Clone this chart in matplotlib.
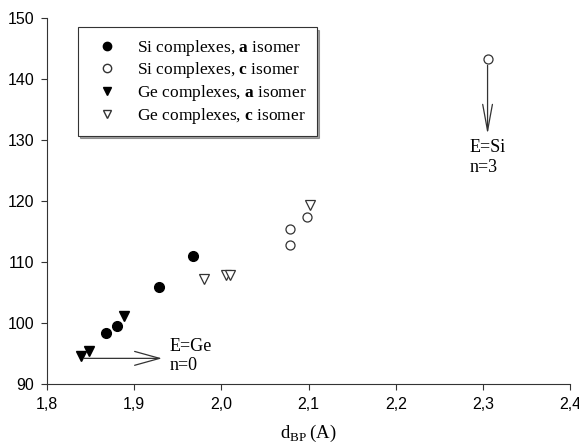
import matplotlib
matplotlib.use("Agg")
import matplotlib.pyplot as plt
from matplotlib.lines import Line2D

plt.rcParams["mathtext.fontset"] = "custom"
plt.rcParams["mathtext.rm"] = "Liberation Serif"
plt.rcParams["mathtext.bf"] = "Liberation Serif:bold"

# dados
si_a_x = [1.868, 1.881, 1.929, 1.968]
si_a_y = [98.4, 99.5, 105.9, 111.0]
si_c_x = [2.079, 2.079, 2.098, 2.305]
si_c_y = [115.5, 112.8, 117.5, 143.3]
ge_a_x = [1.839, 1.848, 1.889]
ge_a_y = [94.6, 95.5, 101.2]
ge_c_x = [1.980, 2.005, 2.010, 2.102]
ge_c_y = [107.3, 107.9, 107.9, 119.4]

rotulos = [r"Si complexes, $\mathbf{a}$ isomer",
           r"Si complexes, $\mathbf{c}$ isomer",
           r"Ge complexes, $\mathbf{a}$ isomer",
           r"Ge complexes, $\mathbf{c}$ isomer"]
xticks = [1.8, 1.9, 2.0, 2.1, 2.2, 2.3, 2.4]
yticks = [90, 100, 110, 120, 130, 140, 150]

fig = plt.figure(figsize=(5.79, 4.47), dpi=100)
ax = fig.add_axes([0.0807, 0.1403, 0.9046, 0.8187])

ax.plot(si_a_x, si_a_y, "o", ms=7, mfc="black", mec="black", ls="none")
ax.plot(si_c_x, si_c_y, "o", ms=6.5, mfc="white", mec="#333333", mew=0.9, ls="none")
ax.plot(ge_a_x, ge_a_y, "v", ms=7, mfc="black", mec="black", ls="none")
ax.plot(ge_c_x, ge_c_y, "v", ms=7, mfc="white", mec="#333333", mew=0.9, ls="none")

# setas
ax.annotate("", xy=(2.305, 131.0), xytext=(2.305, 142.3),
            arrowprops=dict(arrowstyle="->,head_length=1.9,head_width=0.35",
                            color="#333333", lw=0.9, shrinkA=0, shrinkB=0))
ax.annotate("", xy=(1.932, 94.25), xytext=(1.843, 94.25),
            arrowprops=dict(arrowstyle="->,head_length=1.8,head_width=0.5",
                            color="#333333", lw=0.9, shrinkA=0, shrinkB=0))
ax.text(2.284, 128.9, "E=Si", family="Liberation Serif", fontsize=13, va="center")
ax.text(2.284, 125.6, "n=3", family="Liberation Serif", fontsize=13, va="center")
ax.text(1.941, 96.2, "E=Ge", family="Liberation Serif", fontsize=13, va="center")
ax.text(1.941, 93.0, "n=0", family="Liberation Serif", fontsize=13, va="center")

ax.set_xlim(1.8, 2.4)
ax.set_ylim(90, 150)
ax.set_xticks(xticks)
ax.set_yticks(yticks)
ax.set_xticklabels([str(t).replace(".", ",") for t in xticks], family="Liberation Sans", fontsize=11.5)
ax.set_yticklabels([str(t) for t in yticks], family="Liberation Sans", fontsize=11.5)
ax.tick_params(direction="out", length=4, width=0.8, color="#333333", pad=5)
for lado in ["top", "right"]:
    ax.spines[lado].set_visible(False)
for lado in ["left", "bottom"]:
    ax.spines[lado].set_color("#333333")
    ax.spines[lado].set_linewidth(0.8)

ax.set_xlabel(r"$\mathrm{d}_{\mathrm{BP}}\,\mathrm{(A)}$", fontsize=13.5, labelpad=8)

handles = [Line2D([], [], marker="o", ls="none", ms=6, mfc="black", mec="black"),
           Line2D([], [], marker="o", ls="none", ms=6, mfc="white", mec="#333333"),
           Line2D([], [], marker="v", ls="none", ms=6, mfc="black", mec="black"),
           Line2D([], [], marker="v", ls="none", ms=6, mfc="white", mec="#333333")]
leg = ax.legend(handles, rotulos, loc="upper left", bbox_to_anchor=(0.059, 0.975),
                borderaxespad=0, fancybox=False, shadow={"ox": 1.5, "oy": -1.5, "color": "0.3"},
                edgecolor="#333333", prop={"family": "Liberation Serif", "size": 12.5},
                handletextpad=0.6, labelspacing=0.15, borderpad=0.6, handlelength=2.2)
leg.get_frame().set_linewidth(0.8)

fig.savefig("out.png", dpi=100)
